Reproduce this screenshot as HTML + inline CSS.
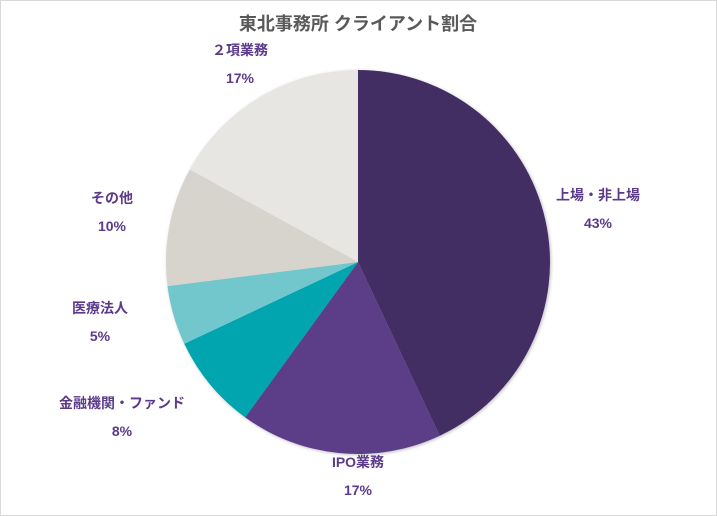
<!DOCTYPE html>
<html><head><meta charset="utf-8"><style>
body{margin:0;background:#fff;}
#wrap{position:relative;width:717px;height:516px;overflow:hidden;}
#frame{position:absolute;left:0;top:0;width:715px;height:514px;border:1px solid #d9d9d9;background:#fff;}
svg text{font-family:"Liberation Sans","Noto Sans CJK JP",sans-serif;}
</style></head><body>
<div id="wrap">
<div id="frame"></div>
<svg id="chart" width="717" height="516" style="position:absolute;left:0;top:0">
<defs><filter id="sh" x="-10%" y="-10%" width="120%" height="120%"><feDropShadow dx="1" dy="1" stdDeviation="1.5" flood-color="#000" flood-opacity="0.25"/></filter></defs>
<text x="358" y="30" text-anchor="middle" font-size="18" font-weight="bold" fill="#595959">東北事務所 クライアント割合</text>
<g id="slices" filter="url(#sh)"></g>
<g id="labels"></g>
</svg>
</div>
<script>
const categories=["上場・非上場","IPO業務","金融機関・ファンド","医療法人","その他","２項業務"];
const values=[43,17,8,5,10,17];
const colors=["#432d63","#5b3d87","#00a5b0","#72c7cd","#d7d3cd","#e8e6e3"];
const labelPos=[[598,200],[358,467],[122,408],[100,313],[112,203],[240,55]];
const cx=358,cy=262,r=192;
const total=values.reduce((a,b)=>a+b,0);
const ns="http://www.w3.org/2000/svg";
const gs=document.getElementById('slices'),gl=document.getElementById('labels');
let a0=0;
values.forEach((v,i)=>{
  const a1=a0+v/total*2*Math.PI;
  const x0=cx+r*Math.sin(a0),y0=cy-r*Math.cos(a0),x1=cx+r*Math.sin(a1),y1=cy-r*Math.cos(a1);
  const large=(a1-a0)>Math.PI?1:0;
  const p=document.createElementNS(ns,'path');
  p.setAttribute('d',`M${cx},${cy}L${x0},${y0}A${r},${r} 0 ${large} 1 ${x1},${y1}Z`);
  p.setAttribute('fill',colors[i]);
  
  
  gs.appendChild(p);
  const [lx,ly]=labelPos[i];
  const t=document.createElementNS(ns,'text');
  t.setAttribute('x',lx);t.setAttribute('y',ly);t.setAttribute('text-anchor','middle');
  t.setAttribute('font-size','14');t.setAttribute('font-weight','bold');t.setAttribute('fill','#5b3a8a');
  
  
  t.textContent=categories[i];
  gl.appendChild(t);
  const t2=document.createElementNS(ns,'text');
  t2.setAttribute('x',lx);t2.setAttribute('y',ly+28);t2.setAttribute('text-anchor','middle');
  t2.setAttribute('font-size','14');t2.setAttribute('font-weight','bold');t2.setAttribute('fill','#5b3a8a');
  
  
  t2.textContent=Math.round(v/total*100)+'%';
  gl.appendChild(t2);
  a0=a1;
});
</script>
</body></html>
